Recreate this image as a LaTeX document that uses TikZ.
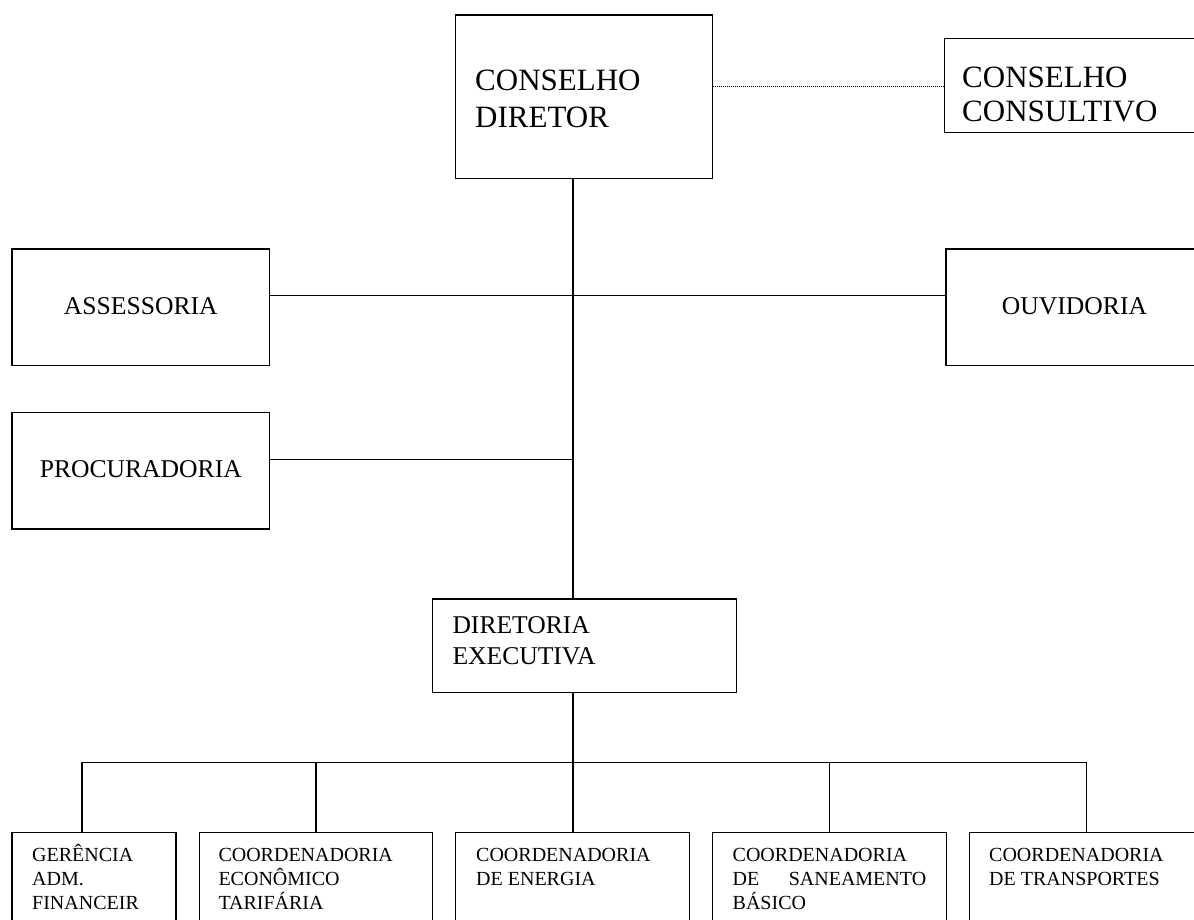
\documentclass[tikz,border=0pt]{standalone}
\usepackage{fontspec}
\setmainfont{Liberation Serif}
\begin{document}
\begin{tikzpicture}[x=1pt,y=-1pt,
  box/.style={draw,line width=1.3pt,inner sep=0pt,outer sep=0pt,anchor=north west},
  conn/.style={line width=1.3pt},
  dotconn/.style={line width=0.9pt,dash pattern=on 1pt off 1pt},
  big/.style={inner sep=0pt,font=\fontsize{31}{36}\selectfont},
  mid/.style={inner sep=0pt,font=\fontsize{25.6}{30}\selectfont},
  small/.style={inner sep=0pt,font=\fontsize{20}{24}\selectfont,anchor=base west}]
\useasboundingbox (0,0) rectangle (1194,920);
\clip (0,0) rectangle (1194,920);

% boxes
\node[box,minimum width=257pt,minimum height=163.7pt] (diretor) at (455.7,15) {};
\node[box,minimum width=260pt,minimum height=94pt] (consultivo) at (944.5,38.3) {};
\node[box,minimum width=257.5pt,minimum height=116.5pt] (assessoria) at (12,249) {};
\node[box,minimum width=257.5pt,minimum height=116.5pt] (ouvidoria) at (946,249) {};
\node[box,minimum width=257.5pt,minimum height=116.7pt] (procuradoria) at (12,412.3) {};
\node[box,minimum width=304.4pt,minimum height=93.7pt] (executiva) at (432.3,599) {};
\node[box,minimum width=164pt,minimum height=120pt] (b1) at (12,832.7) {};
\node[box,minimum width=233.4pt,minimum height=120pt] (b2) at (199.3,832.7) {};
\node[box,minimum width=233.6pt,minimum height=120pt] (b3) at (455.7,832.7) {};
\node[box,minimum width=234pt,minimum height=120pt] (b4) at (712.7,832.7) {};
\node[box,minimum width=234pt,minimum height=120pt] (b5) at (969.7,832.7) {};

% texts
\node[big,anchor=base west] (td1) at (475,90.7) {CONSELHO};
\node[big,anchor=base west] (td2) at (475,127.3) {DIRETOR};
\node[big,anchor=base west] (tc1) at (962,87.3) {CONSELHO};
\node[big,anchor=base west] (tc2) at (962,122) {CONSULTIVO};
\node[mid,anchor=base] (ta) at (140.8,314) {ASSESSORIA};
\node[mid,anchor=base] (to) at (1074.5,314) {OUVIDORIA};
\node[mid,anchor=base] (tp) at (140.8,477.7) {PROCURADORIA};
\node[mid,anchor=base west] (te1) at (452.3,633.3) {DIRETORIA};
\node[mid,anchor=base west] (te2) at (452.3,664) {EXECUTIVA};

\node[small] (t11) at (32,861.7) {GERÊNCIA};
\node[small] (t12) at (32,885.7) {ADM.};
\node[small] (t13) at (32,909.3) {FINANCEIR};
\node[small] (t21) at (218.3,861.7) {COORDENADORIA};
\node[small] (t22) at (218.3,885.7) {ECONÔMICO};
\node[small] (t23) at (218.3,909.3) {TARIFÁRIA};
\node[small] (t31) at (476,861.7) {COORDENADORIA};
\node[small] (t32) at (476,885.7) {DE ENERGIA};
\node[small] (t41) at (732.5,861.7) {COORDENADORIA};
\node[small] (t42) at (732.5,885.7) {\hbox to 193.5pt{DE\hfill SANEAMENTO}};
\node[small] (t43) at (732.5,909.3) {BÁSICO};
\node[small] (t51) at (989,861.7) {COORDENADORIA};
\node[small] (t52) at (989,885.7) {DE TRANSPORTES};

% junction coordinates
\coordinate (j1) at (573,295.3);
\coordinate (j2) at (573,459.3);
\coordinate (j3) at (573,762.3);
\coordinate (k1) at (82,762.3);
\coordinate (k5) at (1086.7,762.3);
\coordinate (d1) at (800,86);

% connectors
\draw[dotconn] (diretor.east |- d1) -- (consultivo.west |- d1);
\draw[conn] (diretor.south -| j1) -- (executiva.north -| j1);
\draw[conn] (assessoria.east |- j1) -- (ouvidoria.west |- j1);
\draw[conn] (procuradoria.east |- j2) -- (j2);
\draw[conn] (executiva.south -| j3) -- (j3);
\draw[conn] (k1) -- (k5);
\draw[conn] (k1) -- (b1.north -| k1);
\draw[conn] (b2.north |- k1) -- (b2.north);
\draw[conn] (b3.north -| j3) -- (j3);
\draw[conn] (b4.north |- k1) -- (b4.north);
\draw[conn] (k5) -- (b5.north -| k5);
\end{tikzpicture}
\end{document}
